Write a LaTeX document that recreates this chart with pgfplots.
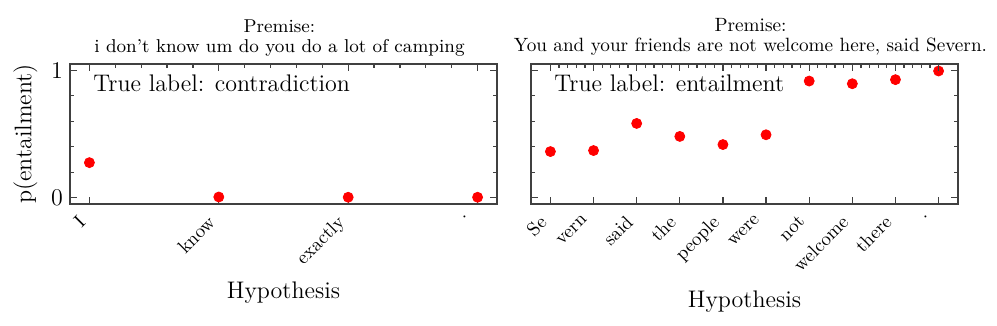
\documentclass[border=0pt]{standalone}
\usepackage{pgfplots}
\pgfplotsset{compat=1.18}
\begin{document}
\begin{tikzpicture}
\useasboundingbox (-35pt,-61pt) rectangle (463.5pt,102pt);
\pgfplotsset{
 myax/.style={
   scale only axis, width=213.5pt, height=70pt,
   ymin=-0.05, ymax=1.05,
   axis line style={draw=black!75, line width=0.7pt},
   tick style={black!75, line width=0.6pt},
   tick align=inside,
   major tick length=3.5pt, minor tick length=2pt,
   yticklabel style={font=\fontsize{11.5}{13}\selectfont},
   xticklabel style={font=\fontsize{9.5}{11}\selectfont, xshift=-6pt, yshift=-3.5pt, rotate=45, anchor=north east, inner sep=1pt},
   label style={font=\fontsize{12}{14}\selectfont},
   xlabel style={yshift=-2pt},
 },
 topax/.style={
   scale only axis, width=213.5pt, height=70pt,
   ymin=-0.05, ymax=1.05,
   axis line style={draw=none},
   tick style={black!75, line width=0.6pt},
   tick align=inside,
   major tick length=3.5pt, minor tick length=2pt,
   minor x tick num=4, xtick pos=right, xticklabels={}, ytick=\empty,
 },
}
% ---------------- left panel ----------------
\begin{axis}[myax, at={(0,0)}, anchor=south west,
  xmin=-0.15, xmax=3.15, xtick={0,1,2,3}, xticklabels={I,know,exactly,.},
  xtick pos=left, ytick={0,1}, minor ytick={0.2,0.4,0.6,0.8}, ytick pos=both, yticklabel pos=left,
  xlabel={Hypothesis}, ylabel={p(entailment)},
  title style={font=\fontsize{9.3}{10}\selectfont, align=center, yshift=-5.5pt, xshift=-2pt},
  title={Premise:\\i don't know um do you do a lot of camping}]
\addplot[only marks, mark=*, mark size=2.5pt, color=red] coordinates {(0,0.275) (1,0.005) (2,0.003) (3,0.003)};
\node[anchor=base west, font=\fontsize{12}{14}\selectfont, inner sep=0pt] at (rel axis cs:0.054,0.8) {True label: contradiction};
\end{axis}
\begin{axis}[topax, at={(0,0)}, anchor=south west, xmin=-0.15, xmax=3.15, xtick={0,1,2,3}]
\end{axis}
% ---------------- right panel ----------------
\begin{axis}[myax, at={(230.5pt,0)}, anchor=south west,
  xmin=-0.45, xmax=9.45, xtick={0,...,9},
  xticklabels={Se,vern,said,the,people,were,not,welcome,there,.},
  xtick pos=left, ytick={0,1}, yticklabels={}, minor ytick={0.2,0.4,0.6,0.8}, ytick pos=both,
  xlabel={Hypothesis}, xlabel style={yshift=-2pt},
  title style={font=\fontsize{9.6}{10}\selectfont, align=center, yshift=-5.5pt, xshift=3pt},
  title={Premise:\\You and your friends are not welcome here, said Severn.}]
\addplot[only marks, mark=*, mark size=2.5pt, color=red] coordinates {
 (0,0.362) (1,0.37) (2,0.583) (3,0.481) (4,0.417) (5,0.494) (6,0.916) (7,0.895) (8,0.927) (9,0.995)};
\node[anchor=base west, font=\fontsize{12}{14}\selectfont, inner sep=0pt] at (rel axis cs:0.054,0.8) {True label: entailment};
\end{axis}
\begin{axis}[topax, at={(230.5pt,0)}, anchor=south west, xmin=-0.45, xmax=9.45, xtick={0,...,9}]
\end{axis}
\end{tikzpicture}
\end{document}
